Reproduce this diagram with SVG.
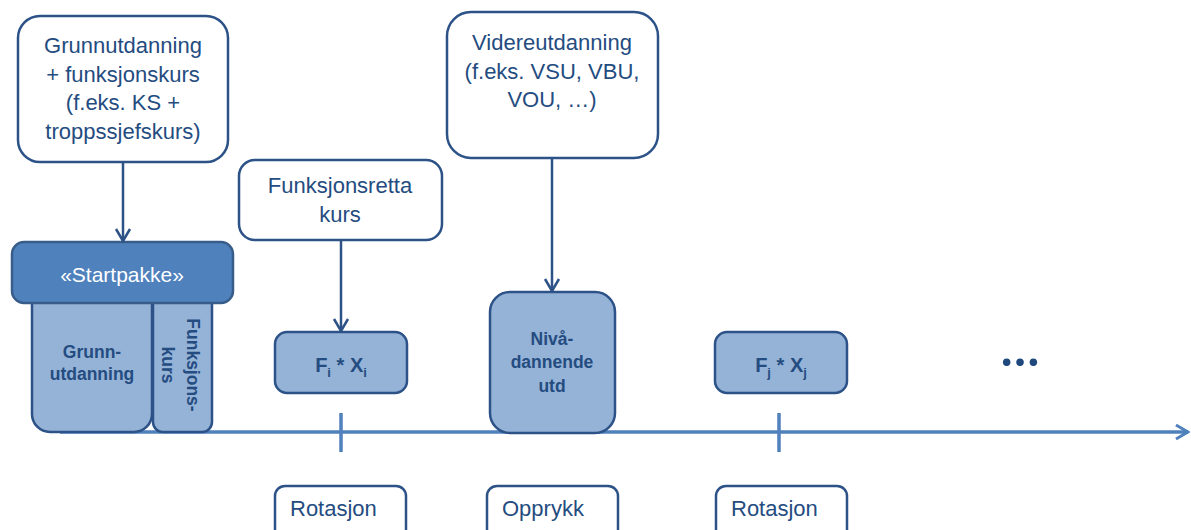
<svg xmlns="http://www.w3.org/2000/svg" width="1191" height="530" viewBox="0 0 1191 530">
<defs>
<style>
.box{fill:#ffffff;stroke:#2c5287;stroke-width:2.5}
.lt{fill:#95b3d7;stroke:#2c5287;stroke-width:2.5}
.dk{fill:#4f81bd;stroke:#385d8a;stroke-width:2.5}
.t{font-family:"Liberation Sans",Arial,sans-serif;font-size:22px;fill:#244c80;text-anchor:middle}
.tl{font-family:"Liberation Sans",Arial,sans-serif;font-size:22px;fill:#244c80}
.b{font-family:"Liberation Sans",Arial,sans-serif;font-size:17.5px;font-weight:bold;fill:#244c80;text-anchor:middle}
.fx{font-family:"Liberation Sans",Arial,sans-serif;font-size:20px;font-weight:bold;fill:#244c80;text-anchor:middle}
.sub{font-size:13px}
.w{font-family:"Liberation Sans",Arial,sans-serif;font-size:21px;fill:#ffffff;text-anchor:middle}
.c{stroke:#2c5287;stroke-width:2.5;fill:none}
.tm{stroke:#4f81bd;stroke-width:3.5;fill:none}
</style>
<marker id="arr" markerUnits="userSpaceOnUse" markerWidth="16" markerHeight="18" viewBox="0 0 16 18" refX="14" refY="9" orient="auto">
<path d="M2,2 L14,9 L2,16" fill="none" stroke="#2c5287" stroke-width="2.5"/>
</marker>
<marker id="tarr" markerUnits="userSpaceOnUse" markerWidth="16" markerHeight="18" viewBox="0 0 16 18" refX="14" refY="9" orient="auto">
<path d="M2,2 L14,9 L2,16" fill="none" stroke="#4f81bd" stroke-width="3"/>
</marker>
</defs>
<rect width="1191" height="530" fill="#ffffff"/>
<g id="timeline">
<line class="tm" x1="60" y1="432" x2="1188" y2="432" marker-end="url(#tarr)"/>
<line class="tm" x1="341" y1="413" x2="341" y2="452" stroke-width="3"/>
<line class="tm" x1="779" y1="413" x2="779" y2="452" stroke-width="3"/>
</g>
<g id="grunnutdanning-top">
<rect class="box" x="18" y="16" width="210" height="146" rx="22"/>
<text class="t"><tspan x="123" y="53">Grunnutdanning</tspan><tspan x="123" y="82">+ funksjonskurs</tspan><tspan x="123" y="110">(f.eks. KS +</tspan><tspan x="123" y="139">troppssjefskurs)</tspan></text>
</g>
<g id="funksjonsretta">
<rect class="box" x="239" y="160" width="203" height="80" rx="16"/>
<text class="t"><tspan x="340" y="193">Funksjonsretta</tspan><tspan x="340" y="222">kurs</tspan></text>
</g>
<g id="videreutdanning">
<rect class="box" x="447" y="12" width="211" height="146" rx="24"/>
<text class="t"><tspan x="552" y="50">Videreutdanning</tspan><tspan x="552" y="78.5">(f.eks. VSU, VBU,</tspan><tspan x="552" y="107">VOU, …)</tspan></text>
</g>
<g id="grunn">
<rect class="lt" x="32" y="280" width="120" height="152" rx="18"/>
<text class="b"><tspan x="92" y="358">Grunn-</tspan><tspan x="92" y="380">utdanning</tspan></text>
</g>
<g id="funksjonskurs">
<rect class="lt" x="153" y="280" width="59" height="152" rx="10"/>
<text class="b" transform="translate(174,365) rotate(90)"><tspan x="0" y="-12.5">Funksjons-</tspan><tspan x="0" y="12.5">kurs</tspan></text>
</g>
<g id="startpakke">
<rect class="dk" x="12" y="242" width="221" height="61" rx="12"/>
<text class="w" x="122" y="282">«Startpakke»</text>
</g>
<g id="fixi">
<rect class="lt" x="275" y="332" width="132" height="61" rx="12"/>
<text class="fx" x="341" y="372">F<tspan class="sub" dy="5">i</tspan><tspan dy="-5"> * X</tspan><tspan class="sub" dy="5">i</tspan></text>
</g>
<g id="nivaa">
<rect class="lt" x="490" y="292" width="125" height="141" rx="20"/>
<text class="b"><tspan x="552" y="345">Nivå-</tspan><tspan x="552" y="368">dannende</tspan><tspan x="552" y="392">utd</tspan></text>
</g>
<g id="fjxj">
<rect class="lt" x="715" y="332" width="132" height="61" rx="12"/>
<text class="fx" x="781" y="372">F<tspan class="sub" dy="5">j</tspan><tspan dy="-5"> * X</tspan><tspan class="sub" dy="5">j</tspan></text>
</g>
<g id="ellipsis">
<text x="1020" y="366" font-family="Lato, 'Liberation Sans', sans-serif" font-size="50" font-weight="bold" fill="#1f497d" text-anchor="middle">…</text>
</g>
<g id="rotasjon1">
<rect class="box" x="275" y="486" width="131" height="60" rx="10"/>
<text class="tl" x="290" y="516">Rotasjon</text>
</g>
<g id="opprykk">
<rect class="box" x="487" y="486" width="131" height="60" rx="10"/>
<text class="tl" x="502" y="516">Opprykk</text>
</g>
<g id="rotasjon2">
<rect class="box" x="716" y="486" width="131" height="60" rx="10"/>
<text class="tl" x="731" y="516">Rotasjon</text>
</g>
<g id="connectors">
<line class="c" x1="123" y1="162" x2="123" y2="241" marker-end="url(#arr)"/>
<line class="c" x1="341" y1="240" x2="341" y2="331" marker-end="url(#arr)"/>
<line class="c" x1="552" y1="158" x2="552" y2="291" marker-end="url(#arr)"/>
</g>
</svg>
